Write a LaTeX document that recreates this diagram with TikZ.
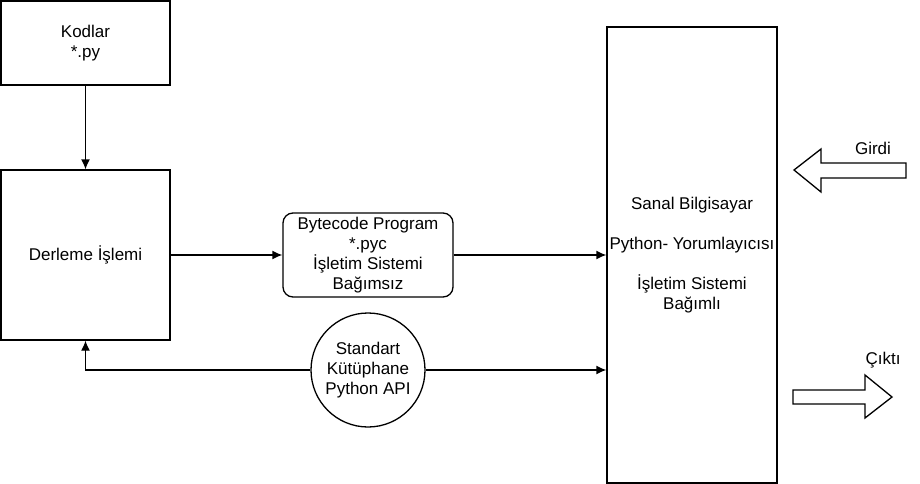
\documentclass[tikz,border=0pt]{standalone}
\usepackage{fontspec}
\setmainfont{Liberation Sans}
\usetikzlibrary{arrows.meta}
\tikzset{>={Latex[length=10pt,width=9pt]}}
\tikzset{
  kutu/.style={draw,line width=1.3pt,inner sep=0pt,align=center},
  okcizgi/.style={->,line width=1.3pt},
  blokok/.style={draw,line width=1.3pt,line join=miter}
}

\begin{document}
\begin{tikzpicture}[x=1pt,y=-1pt,font=\fontsize{17}{20}\selectfont]
  \useasboundingbox (0,0) rectangle (920,484);

  % boxes
  \node[kutu,minimum width=169pt,minimum height=84pt] (kodlar)
    at (85.5,43) {Kodlar\\*.py};
  \node[kutu,minimum width=169pt,minimum height=170pt] (derleme)
    at (85.5,255) {Derleme İşlemi};
  \node[kutu,rounded corners=10pt,minimum width=170pt,minimum height=84pt] (bytecode)
    at (368,255) {Bytecode Program\\*.pyc\\İşletim Sistemi\\Bağımsız};
  \node[kutu,circle,minimum size=114pt] (api)
    at (368,370) {Standart\\Kütüphane\\Python API};
  \node[kutu,minimum width=170pt,minimum height=456pt] (sanal)
    at (692,255) {Sanal Bilgisayar\\[20pt]Python- Yorumlayıcısı\\[20pt]İşletim Sistemi\\Bağımlı};

  % arrows
  \draw[okcizgi] (kodlar) -- (derleme);
  \draw[okcizgi] (derleme) -- (bytecode);
  \draw[okcizgi] (bytecode) -- (sanal);
  \draw[okcizgi] (api.east) -- (api -| sanal.west);
  \draw[okcizgi] (api.west) -| (derleme.south);

  % input / output
  \draw[blokok] % Girdi
    (794,170) -- (821,149) -- (821,163) -- (906,163)
    -- (906,178) -- (821,178) -- (821,192) -- cycle;
  \draw[blokok] % Cikti
    (793,390) -- (865,390) -- (865,375) -- (892,397)
    -- (865,418) -- (865,404) -- (793,404) -- cycle;

  % labels
  \node (girdi) at (873,148) {Girdi};
  \node (cikti) at (883,360) {Çıktı};

\end{tikzpicture}
\end{document}
